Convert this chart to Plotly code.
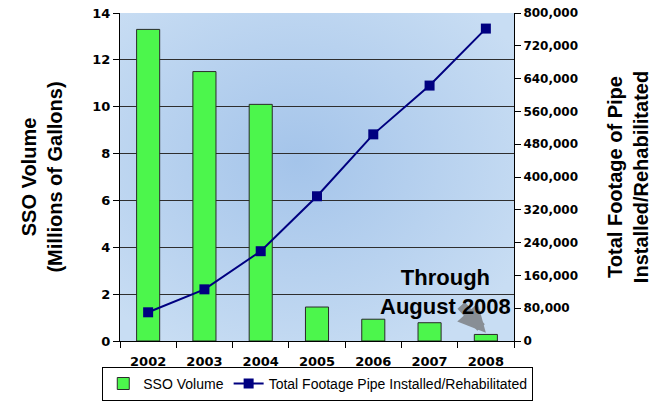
import base64

import plotly.graph_objects as go

years = [2002, 2003, 2004, 2005, 2006, 2007, 2008]
sso_volume = [13.3, 11.5, 10.1, 1.45, 0.93, 0.78, 0.28]
pipe_footage = [70000, 126000, 219000, 353000, 504000, 623000, 762000]

left_ticks = list(range(0, 15, 2))
right_ticks = list(range(0, 800001, 80000))

ARIAL = "Arial, Liberation Sans, sans-serif"
TITLE_FONT = dict(family=ARIAL, size=20, color="black", weight="bold")
TICK_FONT = dict(family="DejaVu Sans, Verdana, sans-serif", size=13,
                 color="black", weight="bold")

# soft radial blue gradient for the plot area
bg_svg = (
    '<svg xmlns="http://www.w3.org/2000/svg" width="400" height="330" '
    'preserveAspectRatio="none">'
    '<defs><radialGradient id="g" cx="0.45" cy="0.45" r="0.65">'
    '<stop offset="0" stop-color="#a4c4ea"/>'
    '<stop offset="1" stop-color="#c8ddf3"/></radialGradient></defs>'
    '<rect width="400" height="330" fill="url(#g)"/></svg>'
)
bg_uri = "data:image/svg+xml;base64," + base64.b64encode(bg_svg.encode()).decode()

fig = go.Figure()

fig.add_trace(go.Bar(
    x=years, y=sso_volume, name="SSO Volume",
    marker=dict(color="#4cf64c", line=dict(color="#2a2a2a", width=1)),
    width=0.41, yaxis="y",
))

fig.add_trace(go.Scatter(
    x=years, y=pipe_footage, name="Total Footage Pipe Installed/Rehabilitated",
    mode="lines+markers", yaxis="y2",
    line=dict(color="#000080", width=2),
    marker=dict(symbol="square", size=10, color="#000080"),
))

fig.add_layout_image(dict(
    source=bg_uri, xref="paper", yref="paper", x=0, y=1,
    sizex=1, sizey=1, sizing="stretch", layer="below",
))

# hatched pointer towards the partial-year bar
fig.add_annotation(
    x=years[-1], y=0.35, xref="x", yref="y", ax=-26, ay=-29,
    showarrow=True, arrowhead=2, arrowsize=0.55, arrowwidth=10,
    arrowcolor="rgba(110,110,110,0.7)", text="",
)
fig.add_annotation(
    x=0.825, y=0.149, xref="paper", yref="paper", xanchor="center",
    yanchor="middle", text="Through<br>August 2008", showarrow=False,
    font=dict(TITLE_FONT, size=22), align="center",
)

fig.update_layout(
    width=659, height=406,
    template="none",
    font=dict(family=ARIAL, color="black"),
    paper_bgcolor="white",
    plot_bgcolor="rgba(0,0,0,0)",
    # keep the plot area fixed; the legend must not push the bottom margin
    margin=dict(l=120, r=145, t=13, b=65, autoexpand=False),
    showlegend=True,
    legend=dict(orientation="h",
                x=-0.045, xanchor="left", y=-0.079, yanchor="top",
                bordercolor="black", borderwidth=1, bgcolor="white",
                font=dict(family=ARIAL, size=14, color="black"),
                itemwidth=30),
    xaxis=dict(
        range=[2001.5, 2008.5], tickvals=years, ticks="", automargin=False,
        minor=dict(tick0=2001.5, dtick=1, ticks="outside", ticklen=6,
                   tickcolor="black", showgrid=False),
        showline=True, linecolor="black", linewidth=1,
        showgrid=False, zeroline=False, tickfont=TICK_FONT, ticklabelstandoff=8,
    ),
    yaxis=dict(
        range=[0, 14], tickvals=left_ticks, ticks="outside", ticklen=6,
        tickcolor="black", showline=True, linecolor="black", linewidth=1,
        showgrid=True, gridcolor="#2e2e2e", gridwidth=1, zeroline=False,
        tickfont=TICK_FONT, automargin=False,
        title=dict(text="SSO Volume<br>(Millions of Gallons)", font=TITLE_FONT,
                   standoff=24),
    ),
    yaxis2=dict(
        range=[0, 800000], tickvals=right_ticks, tickformat=",", overlaying="y",
        side="right", ticks="outside", ticklen=6, tickcolor="black",
        showline=True, linecolor="black", linewidth=1, showgrid=False,
        zeroline=False, tickfont=dict(TICK_FONT, size=12), automargin=False,
        title=dict(text="Total Footage of Pipe<br>Installed/Rehabilitated",
                   font=TITLE_FONT, standoff=30),
    ),
)

# the page's default body margin would shift the 659x406 figure off-window
fig.write_html("out.html", config={"displayModeBar": False},
               post_script="document.body.style.margin = '0';")
